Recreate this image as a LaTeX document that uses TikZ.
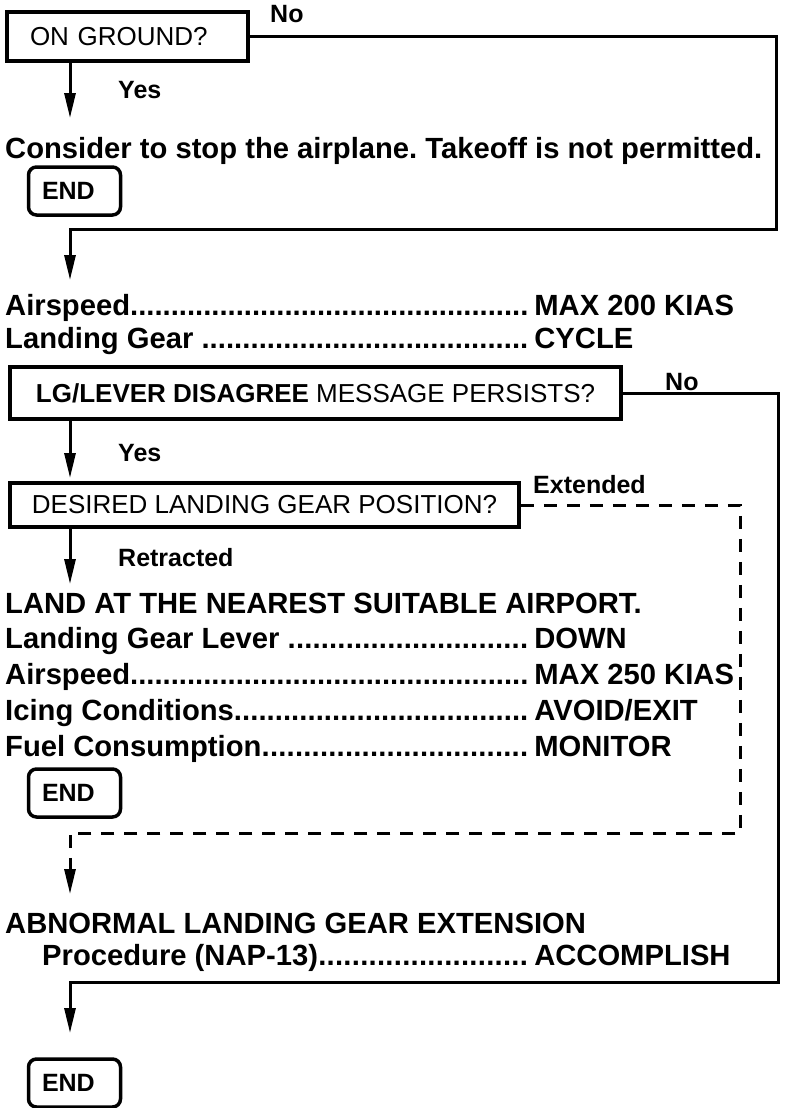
\documentclass[tikz,border=0pt]{standalone}
\usepackage{fontspec}
\setmainfont{Liberation Sans}
\usepackage{tikz}
\usetikzlibrary{arrows.meta,calc,positioning}
\newcommand{\dotline}[3]{\makebox[#1][l]{#2\xleaders\hbox{.}\hfill\kern6pt}#3}
\frenchspacing

\begin{document}
\begin{tikzpicture}[x=1pt,y=-1pt,
  box/.style={draw,line width=3.5pt,inner sep=0pt,font=\fontsize{26}{30}\selectfont},
  endbox/.style={draw,line width=3.5pt,rounded corners=8pt,minimum width=92pt,minimum height=48pt,inner xsep=13.5pt,text width=65pt,align=left,font=\fontsize{25}{30}\selectfont\bfseries},
  lbl/.style={anchor=base west,inner sep=0pt,font=\fontsize{25}{30}\selectfont\bfseries},
  proc/.style={anchor=base west,inner sep=0pt,font=\fontsize{29.2}{34}\selectfont\bfseries},
  flow/.style={line width=3pt,-{Triangle[length=25pt,width=11pt]}},
  dflow/.style={flow,dash pattern=on 13pt off 10pt}]
  \useasboundingbox (0,0) rectangle (785,1108);

  \node[box,minimum width=241pt,minimum height=49pt,text width=195pt,align=left] (ground) at (127.5,36.5) {ON GROUND?};
  \node[lbl] (noA) at (270,23) {No};
  \node[lbl] (yesA) at (118,98) {Yes};
  \node[proc] (stopmsg) at (5,158) {Consider to stop the airplane. Takeoff is not permitted.};
  \node[endbox] (endA) at (74.5,191) {END};

  \node[proc] (aspdA) at (5,315) {\dotline{529pt}{Airspeed}{MAX 200 KIAS}};
  \node[proc] (gearA) at (5,348) {\dotline{529pt}{Landing Gear }{CYCLE}};

  \node[box,minimum width=611pt,minimum height=52pt] (lgdis) at (315.5,393) {\textbf{LG/LEVER DISAGREE} MESSAGE PERSISTS?};
  \node[lbl] (noB) at (665,390) {No};
  \node[lbl] (yesB) at (118,461) {Yes};

  \node[box,minimum width=509pt,minimum height=44pt] (gearpos) at (264.5,505) {DESIRED LANDING GEAR POSITION?};
  \node[lbl] (extd) at (533,493) {Extended};
  \node[lbl] (retr) at (118,566) {Retracted};

  \node[proc] (landmsg) at (5,613) {LAND AT THE NEAREST SUITABLE AIRPORT.};
  \node[proc] (lever) at (5,648) {\dotline{529pt}{Landing Gear Lever }{DOWN}};
  \node[proc] (aspdB) at (5,684) {\dotline{529pt}{Airspeed}{MAX 250 KIAS}};
  \node[proc] (icing) at (5,720) {\dotline{529pt}{Icing Conditions}{AVOID/EXIT}};
  \node[proc] (fuel) at (5,756) {\dotline{529pt}{Fuel Consumption}{MONITOR}};
  \node[endbox] (endB) at (74.5,793) {END};

  \node[proc] (abnorm) at (5,933) {ABNORMAL LANDING GEAR EXTENSION};
  \node[proc] (nap) at (42,965) {\dotline{492pt}{Procedure (NAP-13)}{ACCOMPLISH}};
  \node[endbox] (endC) at (74.5,1083) {END};

  \coordinate (tipA) at (70,118);
  \coordinate (cornA) at (776,229);
  \coordinate (tipB) at (70,280);
  \coordinate (tipC) at (70,478);
  \coordinate (cornC) at (778,982);
  \coordinate (tipD) at (70,1033);
  \coordinate (tipE) at (70,584);
  \coordinate (cornE) at (740,833);
  \coordinate (tipF) at (70,894);

  \draw[flow] (ground.south -| tipA) -- (tipA);
  \draw[flow] (ground.east) -| (cornA) -| (tipB);
  \draw[flow] (lgdis.south -| tipC) -- (tipC);
  \draw[flow] (lgdis.east) -| (cornC) -| (tipD);
  \draw[flow] (gearpos.south -| tipE) -- (tipE);
  \draw[dflow] (gearpos.east) -| (cornE) -| (tipF);
\end{tikzpicture}
\end{document}
